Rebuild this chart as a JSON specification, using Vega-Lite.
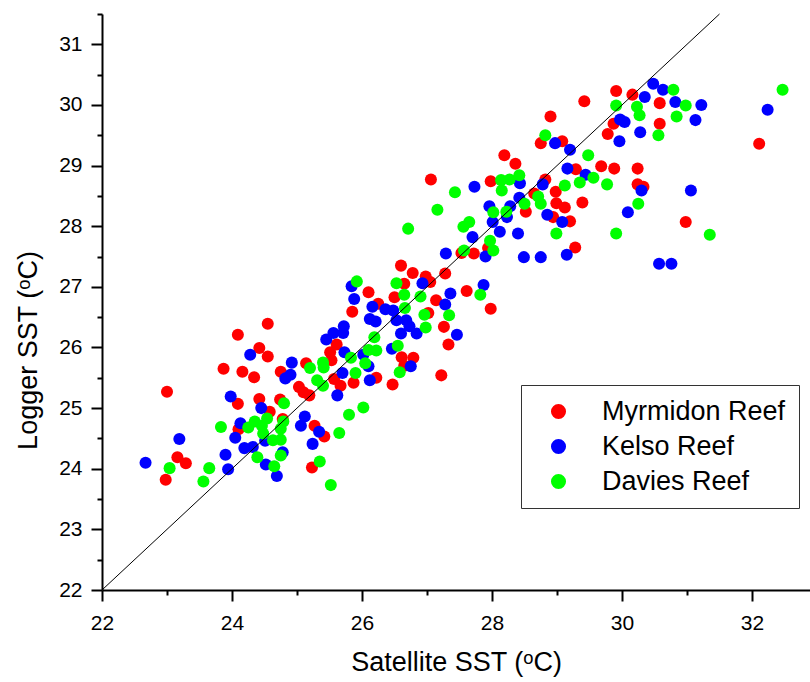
{
  "$schema": "https://vega.github.io/schema/vega-lite/v6.json",
  "width": 708,
  "height": 576,
  "autosize": "none",
  "padding": {"left": 102, "top": 14, "right": 0, "bottom": 92},
  "background": "white",
  "config": {"view": {"stroke": null}, "font": "Liberation Sans"},
  "resolve": {"axis": {"x": "independent", "y": "independent"}},
  "layer": [
    {
      "data": {"values": [
        {"reef":"Myrmidon Reef","sat":23.00,"log":25.27},{"reef":"Myrmidon Reef","sat":22.98,"log":23.82},{"reef":"Myrmidon Reef","sat":23.16,"log":24.19},{"reef":"Myrmidon Reef","sat":23.29,"log":24.09},{"reef":"Myrmidon Reef","sat":23.87,"log":25.65},{"reef":"Myrmidon Reef","sat":24.09,"log":26.21},{"reef":"Myrmidon Reef","sat":24.55,"log":26.39},{"reef":"Myrmidon Reef","sat":24.16,"log":25.60},{"reef":"Myrmidon Reef","sat":24.42,"log":25.99},{"reef":"Myrmidon Reef","sat":24.55,"log":25.85},{"reef":"Myrmidon Reef","sat":24.34,"log":25.51},{"reef":"Myrmidon Reef","sat":24.09,"log":25.07},{"reef":"Myrmidon Reef","sat":24.42,"log":25.15},{"reef":"Myrmidon Reef","sat":24.58,"log":24.94},{"reef":"Myrmidon Reef","sat":24.10,"log":24.65},{"reef":"Myrmidon Reef","sat":24.74,"log":25.14},{"reef":"Myrmidon Reef","sat":24.75,"log":25.60},{"reef":"Myrmidon Reef","sat":25.03,"log":25.35},{"reef":"Myrmidon Reef","sat":25.10,"log":25.26},{"reef":"Myrmidon Reef","sat":25.19,"log":25.21},{"reef":"Myrmidon Reef","sat":25.14,"log":25.74},{"reef":"Myrmidon Reef","sat":24.78,"log":24.82},{"reef":"Myrmidon Reef","sat":25.61,"log":26.05},{"reef":"Myrmidon Reef","sat":25.51,"log":25.92},{"reef":"Myrmidon Reef","sat":25.53,"log":25.79},{"reef":"Myrmidon Reef","sat":25.85,"log":26.59},{"reef":"Myrmidon Reef","sat":25.57,"log":25.48},{"reef":"Myrmidon Reef","sat":25.67,"log":25.37},{"reef":"Myrmidon Reef","sat":25.27,"log":24.71},{"reef":"Myrmidon Reef","sat":25.42,"log":24.53},{"reef":"Myrmidon Reef","sat":25.23,"log":24.02},{"reef":"Myrmidon Reef","sat":27.53,"log":27.56},{"reef":"Myrmidon Reef","sat":27.72,"log":27.55},{"reef":"Myrmidon Reef","sat":26.60,"log":27.35},{"reef":"Myrmidon Reef","sat":26.78,"log":27.23},{"reef":"Myrmidon Reef","sat":26.98,"log":27.17},{"reef":"Myrmidon Reef","sat":27.05,"log":27.08},{"reef":"Myrmidon Reef","sat":27.28,"log":27.22},{"reef":"Myrmidon Reef","sat":26.65,"log":27.05},{"reef":"Myrmidon Reef","sat":26.10,"log":26.91},{"reef":"Myrmidon Reef","sat":26.50,"log":26.83},{"reef":"Myrmidon Reef","sat":27.61,"log":26.93},{"reef":"Myrmidon Reef","sat":27.14,"log":26.78},{"reef":"Myrmidon Reef","sat":26.25,"log":26.72},{"reef":"Myrmidon Reef","sat":27.02,"log":26.57},{"reef":"Myrmidon Reef","sat":27.26,"log":26.34},{"reef":"Myrmidon Reef","sat":27.33,"log":26.05},{"reef":"Myrmidon Reef","sat":26.61,"log":25.84},{"reef":"Myrmidon Reef","sat":26.79,"log":25.83},{"reef":"Myrmidon Reef","sat":26.65,"log":25.70},{"reef":"Myrmidon Reef","sat":26.22,"log":25.50},{"reef":"Myrmidon Reef","sat":25.87,"log":25.42},{"reef":"Myrmidon Reef","sat":26.47,"log":25.39},{"reef":"Myrmidon Reef","sat":27.22,"log":25.54},{"reef":"Myrmidon Reef","sat":27.94,"log":27.64},{"reef":"Myrmidon Reef","sat":27.98,"log":26.64},{"reef":"Myrmidon Reef","sat":28.75,"log":29.37},{"reef":"Myrmidon Reef","sat":29.08,"log":29.40},{"reef":"Myrmidon Reef","sat":28.19,"log":29.17},{"reef":"Myrmidon Reef","sat":28.36,"log":29.03},{"reef":"Myrmidon Reef","sat":29.68,"log":28.99},{"reef":"Myrmidon Reef","sat":29.29,"log":28.94},{"reef":"Myrmidon Reef","sat":27.98,"log":28.74},{"reef":"Myrmidon Reef","sat":28.82,"log":28.77},{"reef":"Myrmidon Reef","sat":28.98,"log":28.57},{"reef":"Myrmidon Reef","sat":28.65,"log":28.54},{"reef":"Myrmidon Reef","sat":28.99,"log":28.38},{"reef":"Myrmidon Reef","sat":29.12,"log":28.31},{"reef":"Myrmidon Reef","sat":29.39,"log":28.39},{"reef":"Myrmidon Reef","sat":28.52,"log":28.24},{"reef":"Myrmidon Reef","sat":28.94,"log":28.15},{"reef":"Myrmidon Reef","sat":29.20,"log":28.08},{"reef":"Myrmidon Reef","sat":29.28,"log":27.65},{"reef":"Myrmidon Reef","sat":29.91,"log":30.23},{"reef":"Myrmidon Reef","sat":30.16,"log":30.17},{"reef":"Myrmidon Reef","sat":29.42,"log":30.06},{"reef":"Myrmidon Reef","sat":30.58,"log":30.03},{"reef":"Myrmidon Reef","sat":29.87,"log":29.69},{"reef":"Myrmidon Reef","sat":30.58,"log":29.69},{"reef":"Myrmidon Reef","sat":29.78,"log":29.52},{"reef":"Myrmidon Reef","sat":29.88,"log":28.95},{"reef":"Myrmidon Reef","sat":30.24,"log":28.95},{"reef":"Myrmidon Reef","sat":30.24,"log":28.69},{"reef":"Myrmidon Reef","sat":30.33,"log":28.65},{"reef":"Myrmidon Reef","sat":30.98,"log":28.07},{"reef":"Myrmidon Reef","sat":32.11,"log":29.36},{"reef":"Myrmidon Reef","sat":28.90,"log":29.81},{"reef":"Myrmidon Reef","sat":27.06,"log":28.77},
        {"reef":"Kelso Reef","sat":22.67,"log":24.10},{"reef":"Kelso Reef","sat":23.19,"log":24.49},{"reef":"Kelso Reef","sat":23.98,"log":25.19},{"reef":"Kelso Reef","sat":23.90,"log":24.23},{"reef":"Kelso Reef","sat":23.94,"log":23.99},{"reef":"Kelso Reef","sat":24.13,"log":24.75},{"reef":"Kelso Reef","sat":24.05,"log":24.51},{"reef":"Kelso Reef","sat":24.19,"log":24.34},{"reef":"Kelso Reef","sat":24.32,"log":24.36},{"reef":"Kelso Reef","sat":24.28,"log":25.88},{"reef":"Kelso Reef","sat":24.45,"log":25.00},{"reef":"Kelso Reef","sat":24.51,"log":24.46},{"reef":"Kelso Reef","sat":24.52,"log":24.07},{"reef":"Kelso Reef","sat":24.69,"log":23.88},{"reef":"Kelso Reef","sat":24.78,"log":24.27},{"reef":"Kelso Reef","sat":24.92,"log":25.75},{"reef":"Kelso Reef","sat":24.90,"log":25.55},{"reef":"Kelso Reef","sat":24.82,"log":25.49},{"reef":"Kelso Reef","sat":25.06,"log":24.71},{"reef":"Kelso Reef","sat":25.12,"log":24.86},{"reef":"Kelso Reef","sat":25.34,"log":24.61},{"reef":"Kelso Reef","sat":25.24,"log":24.41},{"reef":"Kelso Reef","sat":25.62,"log":25.21},{"reef":"Kelso Reef","sat":25.45,"log":26.13},{"reef":"Kelso Reef","sat":25.56,"log":26.24},{"reef":"Kelso Reef","sat":25.72,"log":26.35},{"reef":"Kelso Reef","sat":25.71,"log":26.24},{"reef":"Kelso Reef","sat":25.73,"log":25.92},{"reef":"Kelso Reef","sat":25.70,"log":25.58},
        {"reef":"Kelso Reef","sat":27.29,"log":27.55},{"reef":"Kelso Reef","sat":26.93,"log":27.06},{"reef":"Kelso Reef","sat":25.84,"log":27.01},{"reef":"Kelso Reef","sat":25.88,"log":26.80},{"reef":"Kelso Reef","sat":27.36,"log":26.89},{"reef":"Kelso Reef","sat":27.28,"log":26.71},{"reef":"Kelso Reef","sat":26.16,"log":26.67},{"reef":"Kelso Reef","sat":26.36,"log":26.63},{"reef":"Kelso Reef","sat":26.48,"log":26.61},{"reef":"Kelso Reef","sat":26.12,"log":26.47},{"reef":"Kelso Reef","sat":26.21,"log":26.43},{"reef":"Kelso Reef","sat":26.53,"log":26.45},{"reef":"Kelso Reef","sat":26.68,"log":26.45},{"reef":"Kelso Reef","sat":26.73,"log":26.35},{"reef":"Kelso Reef","sat":26.60,"log":26.23},{"reef":"Kelso Reef","sat":26.84,"log":26.23},{"reef":"Kelso Reef","sat":27.46,"log":26.21},{"reef":"Kelso Reef","sat":26.46,"log":25.98},{"reef":"Kelso Reef","sat":26.02,"log":25.88},{"reef":"Kelso Reef","sat":26.10,"log":25.69},{"reef":"Kelso Reef","sat":26.75,"log":25.69},{"reef":"Kelso Reef","sat":26.12,"log":25.46},
        {"reef":"Kelso Reef","sat":27.70,"log":27.82},{"reef":"Kelso Reef","sat":27.96,"log":28.33},{"reef":"Kelso Reef","sat":28.28,"log":28.33},{"reef":"Kelso Reef","sat":28.12,"log":27.91},{"reef":"Kelso Reef","sat":28.40,"log":27.88},{"reef":"Kelso Reef","sat":27.90,"log":27.50},{"reef":"Kelso Reef","sat":28.49,"log":27.49},{"reef":"Kelso Reef","sat":28.75,"log":27.49},{"reef":"Kelso Reef","sat":29.15,"log":27.53},{"reef":"Kelso Reef","sat":28.85,"log":28.19},{"reef":"Kelso Reef","sat":29.08,"log":28.07},{"reef":"Kelso Reef","sat":27.87,"log":27.03},{"reef":"Kelso Reef","sat":28.97,"log":29.37},{"reef":"Kelso Reef","sat":29.20,"log":29.26},{"reef":"Kelso Reef","sat":29.16,"log":28.95},{"reef":"Kelso Reef","sat":29.44,"log":28.85},{"reef":"Kelso Reef","sat":27.73,"log":28.65},{"reef":"Kelso Reef","sat":28.43,"log":28.71},{"reef":"Kelso Reef","sat":28.78,"log":28.69},{"reef":"Kelso Reef","sat":28.42,"log":28.47},{"reef":"Kelso Reef","sat":28.23,"log":28.15},{"reef":"Kelso Reef","sat":28.01,"log":28.07},{"reef":"Kelso Reef","sat":30.48,"log":30.35},{"reef":"Kelso Reef","sat":30.63,"log":30.25},{"reef":"Kelso Reef","sat":30.35,"log":30.13},{"reef":"Kelso Reef","sat":30.82,"log":30.05},{"reef":"Kelso Reef","sat":31.22,"log":30.00},{"reef":"Kelso Reef","sat":29.97,"log":29.76},{"reef":"Kelso Reef","sat":30.04,"log":29.72},{"reef":"Kelso Reef","sat":31.13,"log":29.75},{"reef":"Kelso Reef","sat":30.28,"log":29.55},{"reef":"Kelso Reef","sat":29.96,"log":29.40},{"reef":"Kelso Reef","sat":30.30,"log":28.59},{"reef":"Kelso Reef","sat":31.06,"log":28.59},{"reef":"Kelso Reef","sat":30.09,"log":28.23},{"reef":"Kelso Reef","sat":32.24,"log":29.92},{"reef":"Kelso Reef","sat":30.57,"log":27.38},{"reef":"Kelso Reef","sat":30.76,"log":27.38},
        {"reef":"Davies Reef","sat":23.04,"log":24.01},{"reef":"Davies Reef","sat":23.56,"log":23.79},{"reef":"Davies Reef","sat":23.65,"log":24.01},{"reef":"Davies Reef","sat":23.83,"log":24.69},{"reef":"Davies Reef","sat":24.25,"log":24.68},{"reef":"Davies Reef","sat":24.35,"log":24.78},{"reef":"Davies Reef","sat":24.54,"log":24.83},{"reef":"Davies Reef","sat":24.39,"log":24.19},{"reef":"Davies Reef","sat":24.48,"log":24.58},{"reef":"Davies Reef","sat":24.46,"log":24.71},{"reef":"Davies Reef","sat":24.65,"log":24.04},{"reef":"Davies Reef","sat":24.63,"log":24.47},{"reef":"Davies Reef","sat":24.75,"log":24.48},{"reef":"Davies Reef","sat":24.75,"log":24.22},{"reef":"Davies Reef","sat":24.80,"log":25.08},{"reef":"Davies Reef","sat":24.79,"log":24.78},{"reef":"Davies Reef","sat":24.75,"log":24.66},{"reef":"Davies Reef","sat":25.20,"log":25.66},{"reef":"Davies Reef","sat":25.40,"log":25.75},{"reef":"Davies Reef","sat":25.41,"log":25.67},{"reef":"Davies Reef","sat":25.31,"log":25.46},{"reef":"Davies Reef","sat":25.40,"log":25.37},{"reef":"Davies Reef","sat":25.65,"log":24.59},{"reef":"Davies Reef","sat":25.80,"log":24.89},{"reef":"Davies Reef","sat":25.35,"log":24.12},{"reef":"Davies Reef","sat":25.52,"log":23.73},{"reef":"Davies Reef","sat":25.83,"log":25.83},
        {"reef":"Davies Reef","sat":27.57,"log":27.60},{"reef":"Davies Reef","sat":26.53,"log":27.06},{"reef":"Davies Reef","sat":25.92,"log":27.09},{"reef":"Davies Reef","sat":26.65,"log":26.87},{"reef":"Davies Reef","sat":26.90,"log":26.84},{"reef":"Davies Reef","sat":27.82,"log":26.87},{"reef":"Davies Reef","sat":26.66,"log":26.65},{"reef":"Davies Reef","sat":26.96,"log":26.54},{"reef":"Davies Reef","sat":27.34,"log":26.53},{"reef":"Davies Reef","sat":26.98,"log":26.33},{"reef":"Davies Reef","sat":26.19,"log":26.17},{"reef":"Davies Reef","sat":26.10,"log":25.96},{"reef":"Davies Reef","sat":26.22,"log":25.95},{"reef":"Davies Reef","sat":26.55,"log":26.03},{"reef":"Davies Reef","sat":26.05,"log":25.74},{"reef":"Davies Reef","sat":26.58,"log":25.59},{"reef":"Davies Reef","sat":25.90,"log":25.58},{"reef":"Davies Reef","sat":26.02,"log":25.01},
        {"reef":"Davies Reef","sat":27.16,"log":28.27},{"reef":"Davies Reef","sat":26.71,"log":27.96},{"reef":"Davies Reef","sat":28.02,"log":28.23},{"reef":"Davies Reef","sat":28.22,"log":28.24},{"reef":"Davies Reef","sat":27.65,"log":28.07},{"reef":"Davies Reef","sat":27.56,"log":27.99},{"reef":"Davies Reef","sat":27.97,"log":27.76},{"reef":"Davies Reef","sat":28.02,"log":27.60},{"reef":"Davies Reef","sat":28.99,"log":27.88},{"reef":"Davies Reef","sat":28.50,"log":28.37},{"reef":"Davies Reef","sat":28.75,"log":28.37},{"reef":"Davies Reef","sat":27.43,"log":28.56},{"reef":"Davies Reef","sat":28.14,"log":28.76},{"reef":"Davies Reef","sat":28.27,"log":28.77},{"reef":"Davies Reef","sat":28.42,"log":28.84},{"reef":"Davies Reef","sat":28.15,"log":28.59},{"reef":"Davies Reef","sat":29.48,"log":29.17},{"reef":"Davies Reef","sat":29.35,"log":28.72},{"reef":"Davies Reef","sat":29.56,"log":28.80},{"reef":"Davies Reef","sat":29.12,"log":28.67},{"reef":"Davies Reef","sat":28.71,"log":28.49},{"reef":"Davies Reef","sat":30.79,"log":30.25},{"reef":"Davies Reef","sat":29.91,"log":29.99},{"reef":"Davies Reef","sat":30.23,"log":29.97},{"reef":"Davies Reef","sat":30.98,"log":29.99},{"reef":"Davies Reef","sat":30.27,"log":29.83},{"reef":"Davies Reef","sat":30.84,"log":29.81},{"reef":"Davies Reef","sat":30.56,"log":29.50},{"reef":"Davies Reef","sat":29.77,"log":28.69},{"reef":"Davies Reef","sat":30.25,"log":28.37},{"reef":"Davies Reef","sat":29.91,"log":27.88},{"reef":"Davies Reef","sat":31.35,"log":27.86},{"reef":"Davies Reef","sat":32.47,"log":30.25},{"reef":"Davies Reef","sat":28.82,"log":29.50}
      ]},
      "mark": {"type": "circle", "size": 145, "opacity": 1, "strokeWidth": 0},
      "encoding": {
        "x": {"field": "sat", "type": "quantitative",
          "scale": {"domain": [22, 32.892], "nice": false, "zero": false},
          "axis": {"orient": "bottom", "values": [22, 24, 26, 28, 30, 32], "grid": false, "tickSize": 11, "tickWidth": 2, "tickColor": "black", "domainWidth": 2, "domainColor": "black", "labelFont": "Liberation Sans", "labelFontSize": 21, "labelColor": "black", "labelPadding": 11, "labelFlush": false, "title": "Satellite SST (ᵒC)", "titleFont": "Liberation Sans", "titleFontSize": 27, "titleFontWeight": "normal", "titleColor": "black", "titlePadding": 16}},
        "y": {"field": "log", "type": "quantitative",
          "scale": {"domain": [22, 31.5], "nice": false, "zero": false},
          "axis": {"orient": "left", "values": [22, 23, 24, 25, 26, 27, 28, 29, 30, 31], "grid": false, "tickSize": 11, "tickWidth": 2, "tickColor": "black", "domainWidth": 2, "domainColor": "black", "labelFont": "Liberation Sans", "labelFontSize": 21, "labelColor": "black", "labelPadding": 9, "labelFlush": false, "title": "Logger SST (ᵒC)", "titleFont": "Liberation Sans", "titleFontSize": 27, "titleFontWeight": "normal", "titleColor": "black", "titlePadding": 16, "titleY": 336}},
        "color": {"field": "reef", "type": "nominal",
          "scale": {"domain": ["Myrmidon Reef", "Kelso Reef", "Davies Reef"], "range": ["#ff0000", "#0000ff", "#00ff00"]},
          "legend": {"orient": "none", "legendX": 419, "legendY": 371, "title": null, "strokeColor": "#333333", "fillColor": "white", "padding": 13, "symbolType": "circle", "symbolSize": 227, "symbolOffset": 11, "symbolStrokeWidth": 0, "symbolOpacity": 1, "labelOffset": 30, "labelLimit": 400, "labelFont": "Liberation Sans", "labelFontSize": 27, "labelColor": "black", "rowPadding": 7}}
      }
    },
    {
      "data": {"values": [{"sat": 22, "log": 22}, {"sat": 31.5, "log": 31.5}]},
      "mark": {"type": "line", "color": "black", "strokeWidth": 1},
      "encoding": {
        "x": {"field": "sat", "type": "quantitative",
          "axis": {"orient": "bottom", "values": [23, 25, 27, 29, 31], "grid": false, "labels": false, "domain": false, "tickSize": 5, "tickWidth": 2, "tickColor": "black", "title": null}},
        "y": {"field": "log", "type": "quantitative",
          "axis": {"orient": "left", "values": [22.5, 23.5, 24.5, 25.5, 26.5, 27.5, 28.5, 29.5, 30.5, 31.5], "grid": false, "labels": false, "domain": false, "tickSize": 5, "tickWidth": 2, "tickColor": "black", "title": null}}
      }
    }
  ]
}
